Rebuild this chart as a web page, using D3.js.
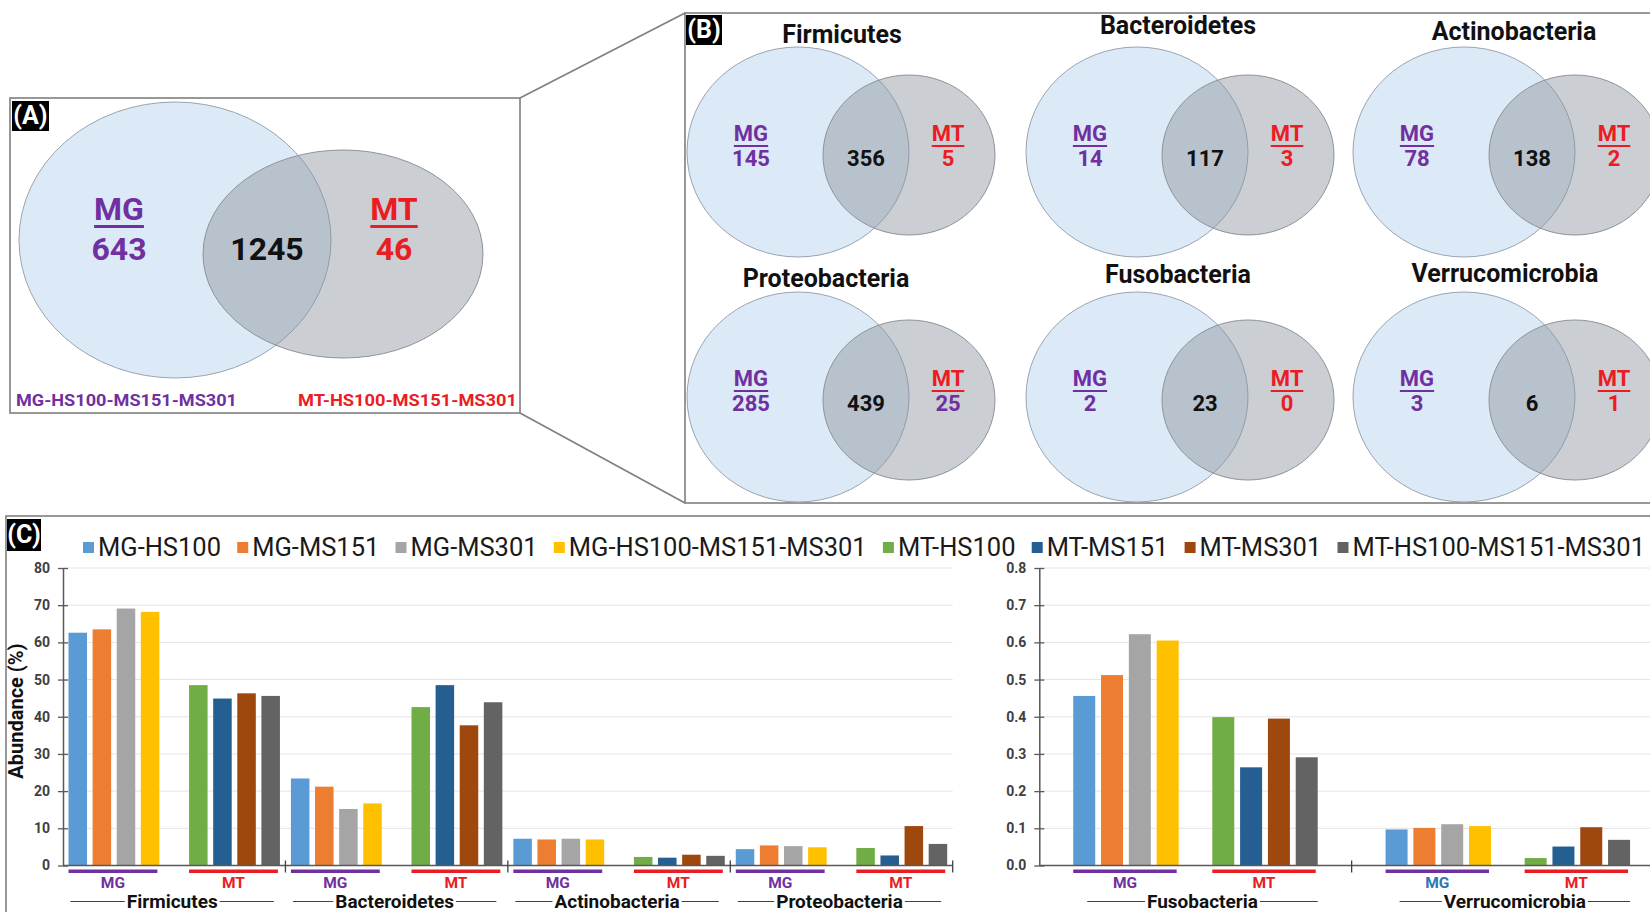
<!DOCTYPE html>
<html>
<head>
<meta charset="utf-8">
<script src="https://cdn.jsdelivr.net/npm/d3@7"></script>
<style>
  html, body { margin: 0; padding: 0; background: #ffffff; }
  svg { display: block; }
  text { font-family: Roboto, "Open Sans", "DejaVu Sans", sans-serif; }
</style>
</head>
<body>
<svg id="fig" width="1650" height="912"></svg>
<script>
// ---------------- data ----------------
// (A) overall overlap of genera detected by metagenomics (MG) and metatranscriptomics (MT)
const overallCounts = [643, 1245, 46];            // MG only, shared, MT only
const overallSetLabels = ["MG-HS100-MS151-MS301", "MT-HS100-MS151-MS301"];

// (B) overlap per phylum
const vennPhyla = ["Firmicutes", "Bacteroidetes", "Actinobacteria",
                   "Proteobacteria", "Fusobacteria", "Verrucomicrobia"];
const phylumMgOnly = [145, 14, 78, 285, 2, 3];
const phylumShared = [356, 117, 138, 439, 23, 6];
const phylumMtOnly = [5, 3, 2, 25, 0, 1];

// (C) relative abundance (%) per sample
const seriesNames = ["MG-HS100", "MG-MS151", "MG-MS301", "MG-HS100-MS151-MS301",
                     "MT-HS100", "MT-MS151", "MT-MS301", "MT-HS100-MS151-MS301"];
const majorPhyla = ["Firmicutes", "Bacteroidetes", "Actinobacteria", "Proteobacteria"];
const firmicutesAbund     = [62.6, 63.5, 69.1, 68.2, 48.5, 44.9, 46.3, 45.6];
const bacteroidetesAbund  = [23.4, 21.2, 15.2, 16.7, 42.6, 48.5, 37.7, 43.9];
const actinobacteriaAbund = [7.2, 7.0, 7.2, 7.0, 2.3, 2.1, 2.9, 2.6];
const proteobacteriaAbund = [4.4, 5.4, 5.2, 4.9, 4.7, 2.7, 10.6, 5.8];
const minorPhyla = ["Fusobacteria", "Verrucomicrobia"];
const fusobacteriaAbund    = [0.456, 0.512, 0.622, 0.605, 0.399, 0.264, 0.395, 0.291];
const verrucomicrobiaAbund = [0.097, 0.101, 0.111, 0.106, 0.020, 0.051, 0.103, 0.069];
const majorTicks = [0, 10, 20, 30, 40, 50, 60, 70, 80];
const minorTicks = [0, 0.1, 0.2, 0.3, 0.4, 0.5, 0.6, 0.7, 0.8];
const groupNames = ["MG", "MT"];

// ---------------- styles ----------------
const seriesColors = ["#5B9BD5", "#ED7D31", "#A5A5A5", "#FFC000",
                      "#70AD47", "#255E91", "#9E480E", "#636363"];
const PURPLE = "#7030A0", RED = "#EA1C24", BLUE_LABEL = "#2E75B6";
const mtCountColors = [RED, RED, RED, PURPLE, RED, RED];

const svg = d3.select("#fig");

// ---------------- frames and panel tags ----------------
const frames = svg.append("g").attr("fill", "none").attr("stroke", "#7f7f7f").attr("stroke-width", 1.6);
frames.append("rect").attr("x", 10).attr("y", 98).attr("width", 510).attr("height", 315);
frames.append("rect").attr("x", 685).attr("y", 13).attr("width", 1100).attr("height", 490);
frames.append("line").attr("x1", 520).attr("y1", 98).attr("x2", 685).attr("y2", 13);
frames.append("line").attr("x1", 520).attr("y1", 413).attr("x2", 685).attr("y2", 503);
frames.append("rect").attr("x", 6).attr("y", 516).attr("width", 1800).attr("height", 500);

function panelTag(x, y, w, h, label) {
  svg.append("rect").attr("x", x).attr("y", y).attr("width", w).attr("height", h).attr("fill", "#000");
  svg.append("text").attr("x", x + w / 2).attr("y", y + h / 2 + 1).attr("text-anchor", "middle")
    .attr("dominant-baseline", "middle").attr("font-size", 25).attr("font-weight", "bold")
    .attr("fill", "#fff").text(label);
}
panelTag(12, 101, 37, 30, "(A)");
panelTag(686, 15, 36, 30, "(B)");
panelTag(7, 519, 34, 32, "(C)");

// ---------------- helpers ----------------
function label(g, x, y, str, size, fill, underline) {
  const t = g.append("text").attr("x", x).attr("y", y).attr("text-anchor", "middle")
    .attr("font-size", size).attr("font-weight", "bold").attr("fill", fill).text(str);
  if (underline) {
    const w = t.node().getComputedTextLength();
    g.append("rect").attr("x", x - w / 2).attr("y", y + underline.gap)
      .attr("width", w).attr("height", underline.thick).attr("fill", fill);
  }
  return t;
}

function venn(g, cx, cy, mg, mt, counts, sizes, mtColor) {
  g.append("ellipse").attr("cx", cx).attr("cy", cy).attr("rx", mg[0]).attr("ry", mg[1])
    .attr("fill", "#dce9f6").attr("stroke", "#9aa4b0").attr("stroke-width", 1);
  g.append("ellipse").attr("cx", cx + mt[2]).attr("cy", cy + mt[3]).attr("rx", mt[0]).attr("ry", mt[1])
    .attr("fill", "rgba(140,146,156,0.45)").attr("stroke", "#8d939b").attr("stroke-width", 1);
  const mgLeft = cx - mg[0], mgRight = cx + mg[0];
  const mtLeft = cx + mt[2] - mt[0], mtRight = cx + mt[2] + mt[0];
  const lens = (mtLeft + mgRight) / 2;
  const mgX = (mgLeft + mtLeft) / 2 - sizes.mgShift;
  const mtX = (mgRight + mtRight) / 2 + sizes.mtShift;
  label(g, mgX, cy + sizes.top, groupNames[0], sizes.font, PURPLE, { gap: sizes.ulGap, thick: sizes.ulThick });
  label(g, mgX, cy + sizes.bottom, counts[0], sizes.font, PURPLE);
  label(g, lens, cy + sizes.bottom, counts[1], sizes.font, "#111");
  label(g, mtX, cy + sizes.top, groupNames[1], sizes.font, RED, { gap: sizes.ulGap, thick: sizes.ulThick });
  label(g, mtX, cy + sizes.bottom, counts[2], sizes.font, mtColor);
}

// ---------------- (A) overall Venn ----------------
const gA = svg.append("g");
venn(gA, 175, 240, [156, 138], [140, 104, 168, 14], overallCounts,
     { font: 32, top: -20, bottom: 20, ulGap: 5, ulThick: 3, mgShift: -8, mtShift: -13 }, RED);
gA.append("text").attr("x", 16).attr("y", 406).attr("font-size", 17).attr("font-weight", "bold")
  .attr("textLength", 221).attr("lengthAdjust", "spacingAndGlyphs")
  .attr("fill", PURPLE).text(overallSetLabels[0]);
gA.append("text").attr("x", 298).attr("y", 406).attr("font-size", 17)
  .attr("textLength", 219).attr("lengthAdjust", "spacingAndGlyphs")
  .attr("font-weight", "bold").attr("fill", RED).text(overallSetLabels[1]);

// ---------------- (B) per-phylum Venns ----------------
const gB = svg.append("g");
const colX = [798, 1137, 1464], rowY = [152, 397];
const titleX = [[842, 1178, 1514], [826, 1178, 1505]];
const titleY = [[43, 34, 40], [287, 283, 282]];
vennPhyla.forEach((p, i) => {
  const c = i % 3, r = Math.floor(i / 3);
  const cx = colX[c], cy = rowY[r];
  gB.append("text").attr("x", titleX[r][c]).attr("y", titleY[r][c]).attr("text-anchor", "middle")
    .attr("font-size", 25).attr("font-weight", "bold").attr("fill", "#111").text(p);
  venn(gB, cx, cy, [111, 105], [86, 80, 111, 3],
       [phylumMgOnly[i], phylumShared[i], phylumMtOnly[i]],
       { font: 22, top: -11, bottom: 14, ulGap: 4, ulThick: 2, mgShift: 4, mtShift: -4 }, mtCountColors[i]);
});

// ---------------- (C) legend ----------------
const gL = svg.append("g");
{
  const x0 = 83, x1 = 1645, sq = 11, sqGap = 15;
  const items = seriesNames.map((n, i) => {
    const t = gL.append("text").attr("y", 556).attr("font-size", 25.5).attr("fill", "#1a1a1a").text(n);
    return { t, w: t.node().getComputedTextLength(), i };
  });
  const used = d3.sum(items, d => d.w + sqGap);
  const gap = (x1 - x0 - used) / (items.length - 1);
  let x = x0;
  items.forEach(d => {
    gL.append("rect").attr("x", x).attr("y", 542).attr("width", sq).attr("height", sq)
      .attr("fill", seriesColors[d.i]);
    d.t.attr("x", x + sqGap);
    x += sqGap + d.w + gap;
  });
}

// ---------------- (C) grouped bar charts ----------------
const slotOf = i => (i < 4 ? i : i + 1);   // empty slot between the MG and MT groups

function barChart(opts) {
  const g = svg.append("g");
  const y = d3.scaleLinear().domain(opts.domain).range([865.5, 568]);
  const x0 = d3.scaleBand().domain(opts.cats).range(opts.range);
  const x1 = d3.scaleBand().domain(d3.range(9)).range([0, x0.bandwidth()])
    .paddingInner(opts.padIn).paddingOuter(opts.padOut);
  const right = Math.min(opts.range[1], 1650);

  // gridlines
  g.append("g").selectAll("line").data(opts.ticks.slice(1)).join("line")
    .attr("x1", opts.range[0]).attr("x2", right)
    .attr("y1", d => y(d)).attr("y2", d => y(d))
    .attr("stroke", "#e4e4e4").attr("stroke-width", 1);

  // bars
  opts.cats.forEach((c, ci) => {
    g.append("g").selectAll("rect").data(opts.values[ci]).join("rect")
      .attr("x", (v, i) => x0(c) + x1(slotOf(i)))
      .attr("y", v => y(v))
      .attr("width", x1.bandwidth())
      .attr("height", v => y(0) - y(v))
      .attr("fill", (v, i) => seriesColors[i]);
  });

  // y axis
  const ax = g.append("g").attr("transform", `translate(${opts.range[0]},0)`)
    .call(d3.axisLeft(y).tickValues(opts.ticks).tickFormat(opts.fmt).tickSize(5).tickSizeOuter(0).tickPadding(8));
  ax.select(".domain").attr("stroke", "#595959").attr("stroke-width", 1.5);
  ax.selectAll(".tick line").attr("x1", -5).attr("x2", 5).attr("stroke", "#595959").attr("stroke-width", 1.3);
  ax.selectAll(".tick text").attr("font-size", 14).attr("font-weight", "bold").attr("fill", "#404040")
    .attr("font-family", null);

  // category axis with separators
  const y0 = y(0);
  g.append("line").attr("x1", opts.range[0]).attr("x2", right).attr("y1", y0).attr("y2", y0)
    .attr("stroke", "#595959").attr("stroke-width", 1.5);
  const seps = opts.cats.map(c => x0(c) + x0.bandwidth());
  g.append("g").selectAll("line").data(seps.filter(s => s <= 1650)).join("line")
    .attr("x1", d => d).attr("x2", d => d).attr("y1", y0 - 5).attr("y2", y0 + 7)
    .attr("stroke", "#404040").attr("stroke-width", 1.3);

  // group underlines, group names and category names
  opts.cats.forEach((c, ci) => {
    const base = x0(c);
    [[0, 3], [5, 8]].forEach(([a, b], gi) => {
      const xa = base + x1(a), xb = base + x1(b) + x1.bandwidth() - 2;
      const col = gi === 0 ? opts.mgLabelColors[ci] : RED;
      g.append("rect").attr("x", xa).attr("y", 869.5).attr("width", xb - xa).attr("height", 3.5)
        .attr("fill", gi === 0 ? PURPLE : RED);
      g.append("text").attr("x", (xa + xb) / 2).attr("y", 888).attr("text-anchor", "middle")
        .attr("font-size", 15.5).attr("font-weight", "bold").attr("fill", col).text(groupNames[gi]);
    });
    const la = base + x1(0) + opts.lineInset[0], lb = base + x1(8) + x1.bandwidth() - opts.lineInset[1];
    const cxm = (la + lb) / 2;
    const t = g.append("text").attr("x", cxm).attr("y", 908).attr("text-anchor", "middle")
      .attr("font-size", 19).attr("font-weight", "bold").attr("fill", "#111").text(c);
    const w = t.node().getComputedTextLength();
    g.append("line").attr("x1", la).attr("x2", cxm - w / 2 - 2).attr("y1", 901.5).attr("y2", 901.5)
      .attr("stroke", "#404040").attr("stroke-width", 1);
    g.append("line").attr("x1", cxm + w / 2 + 2).attr("x2", lb).attr("y1", 901.5).attr("y2", 901.5)
      .attr("stroke", "#404040").attr("stroke-width", 1);
  });
  return g;
}

barChart({
  cats: majorPhyla,
  values: [firmicutesAbund, bacteroidetesAbund, actinobacteriaAbund, proteobacteriaAbund],
  domain: [0, 80], ticks: majorTicks, fmt: d3.format("d"),
  range: [63, 952.7], padIn: 0.232, padOut: 0.228,
  mgLabelColors: [PURPLE, PURPLE, PURPLE, PURPLE],
  lineInset: [2, 6]
});

barChart({
  cats: minorPhyla,
  values: [fusobacteriaAbund, verrucomicrobiaAbund],
  domain: [0, 0.8], ticks: minorTicks, fmt: d3.format(".1f"),
  range: [1039.3, 1664], padIn: 0.209, padOut: 1.22,
  mgLabelColors: [PURPLE, BLUE_LABEL],
  lineInset: [14, 0]
});

// y-axis title
svg.append("text").attr("transform", "translate(23,711) rotate(-90)").attr("text-anchor", "middle")
  .attr("font-size", 20).attr("font-weight", "bold").attr("fill", "#111").text("Abundance (%)");
</script>
</body>
</html>
